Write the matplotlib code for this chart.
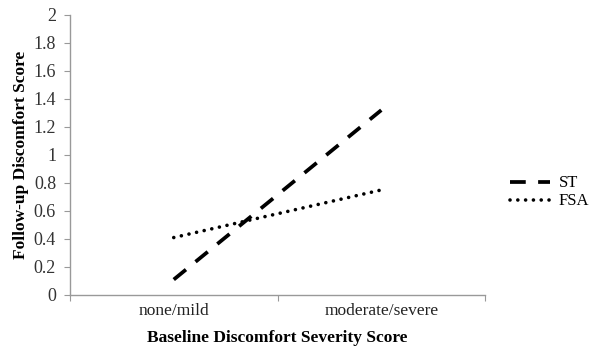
import matplotlib
matplotlib.use("Agg")
import matplotlib.pyplot as plt

categories = ["none/mild", "moderate/severe"]
st_values = [0.11, 1.32]
fsa_values = [0.41, 0.75]
y_ticks = [0, 0.2, 0.4, 0.6, 0.8, 1, 1.2, 1.4, 1.6, 1.8, 2]
y_tick_labels = ["0", "0.2", "0.4", "0.6", "0.8", "1", "1.2", "1.4", "1.6", "1.8", "2"]

plt.rcParams['font.family'] = ['Liberation Serif', 'DejaVu Serif']

fig = plt.figure(figsize=(5.93, 3.47), dpi=100)
ax = fig.add_axes([0.118, 0.15, 0.70, 0.807])

xpos = [0.5, 1.5]
ax.plot(xpos, st_values, color="black", lw=2.7, dashes=(4.2, 3.3), label="ST", dash_capstyle="butt")
ax.plot(xpos, fsa_values, color="black", lw=2.6, linestyle=(0, (0.01, 2.15)), dash_capstyle="round", label="FSA")

ax.set_xlim(0, 2)
ax.set_ylim(0, 2)
ax.set_yticks(y_ticks)
ax.set_yticklabels(y_tick_labels, fontsize=13, color="#333333")
ax.set_xticks([0, 1, 2])
ax.set_xticklabels([])
ax.set_xticks(xpos, minor=True)
ax.set_xticklabels(categories, minor=True, fontsize=12.5, color="#222222")
ax.tick_params(axis="x", which="minor", length=0, pad=6)
ax.tick_params(axis="x", which="major", length=4, color="#999999", direction="out")
ax.tick_params(axis="y", length=4, color="#999999", direction="out", pad=6)

for s in ["top", "right"]:
    ax.spines[s].set_visible(False)
for s in ["left", "bottom"]:
    ax.spines[s].set_color("#999999")
    ax.spines[s].set_linewidth(1.0)

ax.set_ylabel("Follow-up Discomfort Score", fontsize=12.5, fontweight="bold", labelpad=3)
ax.set_xlabel("Baseline Discomfort Severity Score", fontsize=12.5, fontweight="bold", labelpad=8)

leg = ax.legend(loc="center left", bbox_to_anchor=(1.025, 0.366), frameon=False, fontsize=12,
                handlelength=2.4, labelspacing=0.12, handletextpad=0.5)

fig.savefig("out.png", dpi=100)
